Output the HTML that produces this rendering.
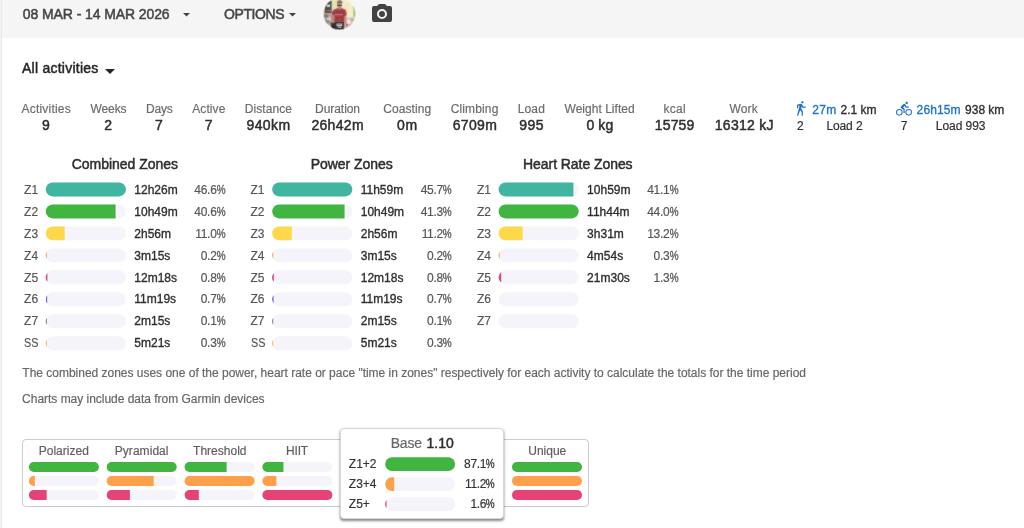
<!DOCTYPE html>
<html><head><meta charset="utf-8"><title>Totals</title>
<style>
html,body{margin:0;padding:0;}
body{width:1024px;height:528px;overflow:hidden;background:#fff;position:relative;font-family:"Liberation Sans",sans-serif;}
.strip{position:absolute;left:0;top:0;width:2px;height:528px;background:linear-gradient(90deg,#f2f2f7 0,#f2f2f7 50%,#e9e9f0 50%,#e9e9f0 100%);}
.hdr{position:absolute;left:2px;top:0;width:1022px;height:38px;background:#f5f5f5;}
.tl{position:absolute;left:0;top:0;width:1024px;height:528px;will-change:transform;}
.t{position:absolute;white-space:pre;font-family:"Liberation Sans",sans-serif;font-weight:400;-webkit-text-stroke:0.18px currentColor;}
.m{-webkit-text-stroke:0.48px currentColor;}
.m2{-webkit-text-stroke:0.33px currentColor;}
.pc{display:inline-block;font-weight:400;-webkit-text-stroke:0.3px currentColor;transform:scaleX(.83);transform-origin:100% 50%;margin-left:-1.81px;}
.bar{position:absolute;background:#f4f4fa;overflow:hidden;}
.bar i{display:block;height:100%;}
.box{position:absolute;left:22px;top:439px;width:565px;height:66px;border:1px solid #ccc;border-radius:4px;}
.pop{position:absolute;left:340px;top:428px;width:162px;height:89px;border:1px solid #d6d6d6;border-radius:4px;background:#fff;box-shadow:0 2px 2.5px -0.5px rgba(0,0,0,.45),0 0 4px rgba(0,0,0,.05);}
svg{position:absolute;overflow:visible;}
</style></head><body>
<div class="strip"></div>
<div class="hdr"></div>
<!-- carets -->
<svg style="left:182.7px;top:12.9px" width="7" height="3.5" viewBox="0 0 10 5"><path d="M0 0H10L5 5Z" fill="#444"/></svg>
<svg style="left:289.3px;top:12.8px" width="7" height="3.5" viewBox="0 0 10 5"><path d="M0 0H10L5 5Z" fill="#444"/></svg>
<svg style="left:105.4px;top:69px" width="10" height="5" viewBox="0 0 10 5"><path d="M0 0H10L5 5Z" fill="#262626"/></svg>
<svg style="left:323px;top:0px" width="33" height="31" viewBox="323 0 33 31">
<defs>
<clipPath id="avc"><circle cx="339.4" cy="13.8" r="16.1"/></clipPath>
<filter id="avb" x="-20%" y="-20%" width="140%" height="140%"><feGaussianBlur stdDeviation="0.85"/></filter>
</defs>
<g clip-path="url(#avc)">
<g filter="url(#avb)">
<rect x="320" y="-4" width="40" height="38" fill="#e9e2c4"/>
<rect x="342" y="-2" width="14" height="20" fill="#f4eed0"/>
<rect x="345" y="3" width="4" height="10" fill="#f3e8ba"/>
<rect x="353.5" y="6" width="3" height="11" fill="#a6ad55"/>
<rect x="331" y="-2" width="6" height="10" fill="#e4e5b4"/>
<rect x="323" y="9" width="4" height="5" fill="#c9cf6a"/>
<rect x="324.5" y="0.5" width="7.2" height="12.8" fill="#454547"/>
<rect x="326.6" y="4.6" width="3.4" height="2.2" fill="#e8e8ea"/>
<rect x="325.8" y="9.8" width="2" height="1.6" fill="#d8454a"/>
<rect x="328.2" y="9.9" width="3" height="1.4" fill="#8a8a90"/>
<rect x="322" y="13.5" width="11" height="12" fill="#b7a6a3"/>
<rect x="324" y="14.5" width="4.5" height="3" fill="#74757c"/>
<rect x="328.5" y="16" width="3" height="2.4" fill="#d6b3aa"/>
<rect x="327" y="18" width="4" height="3" fill="#d9cfcf"/>
<rect x="324.5" y="20" width="5" height="3.4" fill="#8d8184"/>
<rect x="327" y="23.4" width="4" height="2.4" fill="#c9bcbc"/>
<rect x="345" y="17.5" width="12" height="11" fill="#d7c7c2"/>
<rect x="347.3" y="20" width="3" height="3.6" fill="#f4f2f2"/>
<rect x="350.5" y="18.5" width="4" height="3" fill="#c3a9a2"/>
<rect x="346" y="23.8" width="1.7" height="2.8" fill="#cf3a4c"/>
<rect x="349" y="24" width="5" height="3" fill="#bfb2b2"/>
<path d="M331.5 21.5 L344.6 21.5 L344.2 31 L330.5 31 Z" fill="#2a2a32"/>
<rect x="330.5" y="22.4" width="3.6" height="3" fill="#2c2c33"/>
<path d="M332.4 12.5 L334.8 14 L334.4 23.0 L331.2 23.2 L331.0 17 Z" fill="#b98a78"/>
<path d="M344.2 14 L346.4 16.5 L346.8 24 L344.2 24 Z" fill="#c99783"/>
<path d="M338 8 L341.2 8 L345.4 9.6 Q346.8 12 346.8 15.6 L344.6 16 L344.3 21.7 L334.3 21.7 L334.4 15.2 L331.8 14.6 Q332 11.2 333.4 9.8 Z" fill="#a0393e"/>
<rect x="334.6" y="14.0" width="8.2" height="1.3" fill="#c27c83"/>
<rect x="339" y="18.6" width="1.1" height="1.1" fill="#b8804f"/>
<rect x="338.2" y="7" width="3" height="2.4" fill="#bb8873"/>
<ellipse cx="339.5" cy="4.6" rx="2.6" ry="3.6" fill="#c3917b"/>
<path d="M336.9 3.4 Q337 0.2 339.7 0.3 Q342.5 0.2 342.5 3.4 Q339.7 1.9 336.9 3.4 Z" fill="#6e625c"/>
<rect x="337.2" y="4.7" width="4.6" height="1.2" rx="0.5" fill="#26262b"/>
<rect x="336.6" y="23.6" width="5.4" height="2.6" fill="#e9e9ec"/>
<rect x="337.4" y="24.4" width="3.8" height="0.8" fill="#55565e"/>
<rect x="338.2" y="26.8" width="3" height="1.1" fill="#c9c9cf"/>
</g>
<g opacity="0.55">
<rect x="320" y="-4" width="40" height="38" fill="#e9e2c4"/>
<rect x="342" y="-2" width="14" height="20" fill="#f4eed0"/>
<rect x="345" y="3" width="4" height="10" fill="#f3e8ba"/>
<rect x="353.5" y="6" width="3" height="11" fill="#a6ad55"/>
<rect x="331" y="-2" width="6" height="10" fill="#e4e5b4"/>
<rect x="323" y="9" width="4" height="5" fill="#c9cf6a"/>
<rect x="324.5" y="0.5" width="7.2" height="12.8" fill="#454547"/>
<rect x="326.6" y="4.6" width="3.4" height="2.2" fill="#e8e8ea"/>
<rect x="325.8" y="9.8" width="2" height="1.6" fill="#d8454a"/>
<rect x="328.2" y="9.9" width="3" height="1.4" fill="#8a8a90"/>
<rect x="322" y="13.5" width="11" height="12" fill="#b7a6a3"/>
<rect x="324" y="14.5" width="4.5" height="3" fill="#74757c"/>
<rect x="328.5" y="16" width="3" height="2.4" fill="#d6b3aa"/>
<rect x="327" y="18" width="4" height="3" fill="#d9cfcf"/>
<rect x="324.5" y="20" width="5" height="3.4" fill="#8d8184"/>
<rect x="327" y="23.4" width="4" height="2.4" fill="#c9bcbc"/>
<rect x="345" y="17.5" width="12" height="11" fill="#d7c7c2"/>
<rect x="347.3" y="20" width="3" height="3.6" fill="#f4f2f2"/>
<rect x="350.5" y="18.5" width="4" height="3" fill="#c3a9a2"/>
<rect x="346" y="23.8" width="1.7" height="2.8" fill="#cf3a4c"/>
<rect x="349" y="24" width="5" height="3" fill="#bfb2b2"/>
<path d="M331.5 21.5 L344.6 21.5 L344.2 31 L330.5 31 Z" fill="#2a2a32"/>
<rect x="330.5" y="22.4" width="3.6" height="3" fill="#2c2c33"/>
<path d="M332.4 12.5 L334.8 14 L334.4 23.0 L331.2 23.2 L331.0 17 Z" fill="#b98a78"/>
<path d="M344.2 14 L346.4 16.5 L346.8 24 L344.2 24 Z" fill="#c99783"/>
<path d="M338 8 L341.2 8 L345.4 9.6 Q346.8 12 346.8 15.6 L344.6 16 L344.3 21.7 L334.3 21.7 L334.4 15.2 L331.8 14.6 Q332 11.2 333.4 9.8 Z" fill="#a0393e"/>
<rect x="334.6" y="14.0" width="8.2" height="1.3" fill="#c27c83"/>
<rect x="339" y="18.6" width="1.1" height="1.1" fill="#b8804f"/>
<rect x="338.2" y="7" width="3" height="2.4" fill="#bb8873"/>
<ellipse cx="339.5" cy="4.6" rx="2.6" ry="3.6" fill="#c3917b"/>
<path d="M336.9 3.4 Q337 0.2 339.7 0.3 Q342.5 0.2 342.5 3.4 Q339.7 1.9 336.9 3.4 Z" fill="#6e625c"/>
<rect x="337.2" y="4.7" width="4.6" height="1.2" rx="0.5" fill="#26262b"/>
<rect x="336.6" y="23.6" width="5.4" height="2.6" fill="#e9e9ec"/>
<rect x="337.4" y="24.4" width="3.8" height="0.8" fill="#55565e"/>
<rect x="338.2" y="26.8" width="3" height="1.1" fill="#c9c9cf"/>
</g>
</g>
<circle cx="339.4" cy="13.8" r="16.1" fill="none" stroke="#f5f5f5" stroke-width="0.6"/>
</svg>

<!-- camera -->
<svg style="left:369.7px;top:2px" width="24" height="24" viewBox="0 0 24 24"><path fill="#424242" d="M4,4H7L9,2H15L17,4H20A2,2 0 0,1 22,6V18A2,2 0 0,1 20,20H4A2,2 0 0,1 2,18V6A2,2 0 0,1 4,4M12,7A5,5 0 0,0 7,12A5,5 0 0,0 12,17A5,5 0 0,0 17,12A5,5 0 0,0 12,7M12,9A3,3 0 0,1 15,12A3,3 0 0,1 12,15A3,3 0 0,1 9,12A3,3 0 0,1 12,9Z"/></svg>
<!-- walk / bike -->
<svg style="left:792.8px;top:100.9px" width="16" height="16" viewBox="0 0 24 24"><path fill="#1f72cc" d="M14.12,10H19V8.2H15.38L13.38,4.87C13.08,4.37 12.54,4.03 11.92,4.03C11.74,4.03 11.58,4.06 11.42,4.11L6,5.8V11H7.8V7.33L9.91,6.67L6,22H7.8L10.67,13.89L13,17V22H14.8V15.59L12.31,11.05L13.04,8.18M14,3.8C15,3.8 15.8,3 15.8,2C15.8,1 15,0.2 14,0.2C13,0.2 12.2,1 12.2,2C12.2,3 13,3.8 14,3.8Z"/></svg>
<svg style="left:896.1px;top:100.9px" width="16" height="16" viewBox="0 0 24 24"><path fill="#1f72cc" d="M5,20.5A3.5,3.5 0 0,1 1.5,17A3.5,3.5 0 0,1 5,13.5A3.5,3.5 0 0,1 8.5,17A3.5,3.5 0 0,1 5,20.5M5,12A5,5 0 0,0 0,17A5,5 0 0,0 5,22A5,5 0 0,0 10,17A5,5 0 0,0 5,12M14.8,10H19V8.2H15.8L13.86,4.93C13.57,4.43 13,4.1 12.4,4.1C11.93,4.1 11.5,4.29 11.2,4.6L7.5,8.29C7.19,8.6 7,9 7,9.5C7,10.13 7.33,10.66 7.85,10.97L11.2,13V18H13V11.5L10.75,9.85L13.07,7.5M19,20.5A3.5,3.5 0 0,1 15.5,17A3.5,3.5 0 0,1 19,13.5A3.5,3.5 0 0,1 22.5,17A3.5,3.5 0 0,1 19,20.5M19,12A5,5 0 0,0 14,17A5,5 0 0,0 19,22A5,5 0 0,0 24,17A5,5 0 0,0 19,12M16,4.8C17,4.8 17.8,4 17.8,3C17.8,2 17,1.2 16,1.2C15,1.2 14.2,2 14.2,3C14.2,4 15,4.8 16,4.8Z"/></svg>
<div class="box"></div>
<svg style="left:0;top:0" width="1024" height="528" viewBox="0 0 1024 528">
<path fill="#f4f4fa" d="M52.77 182.45H118.92A6.97 6.97 0 0 1 118.92 196.40H52.77A6.97 6.97 0 0 1 52.77 182.45Z"/><path fill="#40b6a0" d="M52.77 182.45H118.92A6.97 6.97 0 0 1 118.92 196.40H52.77A6.97 6.97 0 0 1 52.77 182.45Z"/>
<path fill="#f4f4fa" d="M52.77 204.43H118.92A6.97 6.97 0 0 1 118.92 218.38H52.77A6.97 6.97 0 0 1 52.77 204.43Z"/><path fill="#40b640" d="M52.77 204.43H115.59V218.38H52.77A6.97 6.97 0 0 1 52.77 204.43Z"/>
<path fill="#f4f4fa" d="M52.77 226.41H118.92A6.97 6.97 0 0 1 118.92 240.36H52.77A6.97 6.97 0 0 1 52.77 226.41Z"/><path fill="#ffd84a" d="M52.77 226.41H64.71V240.36H52.77A6.97 6.97 0 0 1 52.77 226.41Z"/>
<path fill="#f4f4fa" d="M52.77 248.39H118.92A6.97 6.97 0 0 1 118.92 262.34H52.77A6.97 6.97 0 0 1 52.77 248.39Z"/><path fill="#ff9f4a" d="M46.80 251.77A6.97 6.97 0 0 0 46.80 258.96Z"/>
<path fill="#f4f4fa" d="M52.77 270.37H118.92A6.97 6.97 0 0 1 118.92 284.32H52.77A6.97 6.97 0 0 1 52.77 270.37Z"/><path fill="#e54375" d="M47.38 272.93A6.97 6.97 0 0 0 47.38 281.76Z"/>
<path fill="#f4f4fa" d="M52.77 292.35H118.92A6.97 6.97 0 0 1 118.92 306.30H52.77A6.97 6.97 0 0 1 52.77 292.35Z"/><path fill="#8c66d9" d="M47.20 295.13A6.97 6.97 0 0 0 47.20 303.52Z"/>
<path fill="#f4f4fa" d="M52.77 314.33H118.92A6.97 6.97 0 0 1 118.92 328.28H52.77A6.97 6.97 0 0 1 52.77 314.33Z"/><path fill="#7c7689" d="M46.80 317.71A6.97 6.97 0 0 0 46.80 324.90Z"/>
<path fill="#f4f4fa" d="M52.77 336.31H118.92A6.97 6.97 0 0 1 118.92 350.26H52.77A6.97 6.97 0 0 1 52.77 336.31Z"/><path fill="#ffb74a" d="M46.80 339.69A6.97 6.97 0 0 0 46.80 346.88Z"/>
<path fill="#f4f4fa" d="M279.18 182.45H345.32A6.97 6.97 0 0 1 345.32 196.40H279.18A6.97 6.97 0 0 1 279.18 182.45Z"/><path fill="#40b6a0" d="M279.18 182.45H345.32A6.97 6.97 0 0 1 345.32 196.40H279.18A6.97 6.97 0 0 1 279.18 182.45Z"/>
<path fill="#f4f4fa" d="M279.18 204.43H345.32A6.97 6.97 0 0 1 345.32 218.38H279.18A6.97 6.97 0 0 1 279.18 204.43Z"/><path fill="#40b640" d="M279.18 204.43H344.59V218.38H279.18A6.97 6.97 0 0 1 279.18 204.43Z"/>
<path fill="#f4f4fa" d="M279.18 226.41H345.32A6.97 6.97 0 0 1 345.32 240.36H279.18A6.97 6.97 0 0 1 279.18 226.41Z"/><path fill="#ffd84a" d="M279.18 226.41H291.83V240.36H279.18A6.97 6.97 0 0 1 279.18 226.41Z"/>
<path fill="#f4f4fa" d="M279.18 248.39H345.32A6.97 6.97 0 0 1 345.32 262.34H279.18A6.97 6.97 0 0 1 279.18 248.39Z"/><path fill="#ff9f4a" d="M273.20 251.77A6.97 6.97 0 0 0 273.20 258.96Z"/>
<path fill="#f4f4fa" d="M279.18 270.37H345.32A6.97 6.97 0 0 1 345.32 284.32H279.18A6.97 6.97 0 0 1 279.18 270.37Z"/><path fill="#e54375" d="M273.80 272.90A6.97 6.97 0 0 0 273.80 281.79Z"/>
<path fill="#f4f4fa" d="M279.18 292.35H345.32A6.97 6.97 0 0 1 345.32 306.30H279.18A6.97 6.97 0 0 1 279.18 292.35Z"/><path fill="#8c66d9" d="M273.63 295.10A6.97 6.97 0 0 0 273.63 303.55Z"/>
<path fill="#f4f4fa" d="M279.18 314.33H345.32A6.97 6.97 0 0 1 345.32 328.28H279.18A6.97 6.97 0 0 1 279.18 314.33Z"/><path fill="#7c7689" d="M273.20 317.71A6.97 6.97 0 0 0 273.20 324.90Z"/>
<path fill="#f4f4fa" d="M279.18 336.31H345.32A6.97 6.97 0 0 1 345.32 350.26H279.18A6.97 6.97 0 0 1 279.18 336.31Z"/><path fill="#ffb74a" d="M273.20 339.69A6.97 6.97 0 0 0 273.20 346.88Z"/>
<path fill="#f4f4fa" d="M505.58 182.45H571.73A6.97 6.97 0 0 1 571.73 196.40H505.58A6.97 6.97 0 0 1 505.58 182.45Z"/><path fill="#40b6a0" d="M505.58 182.45H571.73A6.97 6.97 0 0 1 573.42 182.66V196.19A6.97 6.97 0 0 1 571.73 196.40H505.58A6.97 6.97 0 0 1 505.58 182.45Z"/>
<path fill="#f4f4fa" d="M505.58 204.43H571.73A6.97 6.97 0 0 1 571.73 218.38H505.58A6.97 6.97 0 0 1 505.58 204.43Z"/><path fill="#40b640" d="M505.58 204.43H571.73A6.97 6.97 0 0 1 571.73 218.38H505.58A6.97 6.97 0 0 1 505.58 204.43Z"/>
<path fill="#f4f4fa" d="M505.58 226.41H571.73A6.97 6.97 0 0 1 571.73 240.36H505.58A6.97 6.97 0 0 1 505.58 226.41Z"/><path fill="#ffd84a" d="M505.58 226.41H522.63V240.36H505.58A6.97 6.97 0 0 1 505.58 226.41Z"/>
<path fill="#f4f4fa" d="M505.58 248.39H571.73A6.97 6.97 0 0 1 571.73 262.34H505.58A6.97 6.97 0 0 1 505.58 248.39Z"/><path fill="#ff9f4a" d="M499.60 251.77A6.97 6.97 0 0 0 499.60 258.96Z"/>
<path fill="#f4f4fa" d="M505.58 270.37H571.73A6.97 6.97 0 0 1 571.73 284.32H505.58A6.97 6.97 0 0 1 505.58 270.37Z"/><path fill="#e54375" d="M501.17 271.94A6.97 6.97 0 0 0 501.17 282.75Z"/>
<path fill="#f4f4fa" d="M505.58 292.35H571.73A6.97 6.97 0 0 1 571.73 306.30H505.58A6.97 6.97 0 0 1 505.58 292.35Z"/>
<path fill="#f4f4fa" d="M505.58 314.33H571.73A6.97 6.97 0 0 1 571.73 328.28H505.58A6.97 6.97 0 0 1 505.58 314.33Z"/>
<path fill="#f4f4fa" d="M33.82 462.05H93.98A4.92 4.92 0 0 1 93.98 471.90H33.82A4.92 4.92 0 0 1 33.82 462.05Z"/><path fill="#40b640" d="M33.82 462.05H93.98A4.92 4.92 0 0 1 93.98 471.90H33.82A4.92 4.92 0 0 1 33.82 462.05Z"/>
<path fill="#f4f4fa" d="M33.82 476.05H93.98A4.92 4.92 0 0 1 93.98 485.90H33.82A4.92 4.92 0 0 1 33.82 476.05Z"/><path fill="#ff9f4a" d="M33.82 476.05H34.90V485.90H33.82A4.92 4.92 0 0 1 33.82 476.05Z"/>
<path fill="#f4f4fa" d="M33.82 490.05H93.98A4.92 4.92 0 0 1 93.98 499.90H33.82A4.92 4.92 0 0 1 33.82 490.05Z"/><path fill="#e54375" d="M33.82 490.05H46.70V499.90H33.82A4.92 4.92 0 0 1 33.82 490.05Z"/>
<path fill="#f4f4fa" d="M111.62 462.05H171.77A4.92 4.92 0 0 1 171.77 471.90H111.62A4.92 4.92 0 0 1 111.62 462.05Z"/><path fill="#40b640" d="M111.62 462.05H171.77A4.92 4.92 0 0 1 171.77 471.90H111.62A4.92 4.92 0 0 1 111.62 462.05Z"/>
<path fill="#f4f4fa" d="M111.62 476.05H171.77A4.92 4.92 0 0 1 171.77 485.90H111.62A4.92 4.92 0 0 1 111.62 476.05Z"/><path fill="#ff9f4a" d="M111.62 476.05H153.70V485.90H111.62A4.92 4.92 0 0 1 111.62 476.05Z"/>
<path fill="#f4f4fa" d="M111.62 490.05H171.77A4.92 4.92 0 0 1 171.77 499.90H111.62A4.92 4.92 0 0 1 111.62 490.05Z"/><path fill="#e54375" d="M111.62 490.05H129.90V499.90H111.62A4.92 4.92 0 0 1 111.62 490.05Z"/>
<path fill="#f4f4fa" d="M189.53 462.05H249.67A4.92 4.92 0 0 1 249.67 471.90H189.53A4.92 4.92 0 0 1 189.53 462.05Z"/><path fill="#40b640" d="M189.53 462.05H226.60V471.90H189.53A4.92 4.92 0 0 1 189.53 462.05Z"/>
<path fill="#f4f4fa" d="M189.53 476.05H249.67A4.92 4.92 0 0 1 249.67 485.90H189.53A4.92 4.92 0 0 1 189.53 476.05Z"/><path fill="#ff9f4a" d="M189.53 476.05H249.67A4.92 4.92 0 0 1 249.67 485.90H189.53A4.92 4.92 0 0 1 189.53 476.05Z"/>
<path fill="#f4f4fa" d="M189.53 490.05H249.67A4.92 4.92 0 0 1 249.67 499.90H189.53A4.92 4.92 0 0 1 189.53 490.05Z"/><path fill="#e54375" d="M189.53 490.05H198.80V499.90H189.53A4.92 4.92 0 0 1 189.53 490.05Z"/>
<path fill="#f4f4fa" d="M267.32 462.05H327.47A4.92 4.92 0 0 1 327.47 471.90H267.32A4.92 4.92 0 0 1 267.32 462.05Z"/><path fill="#40b640" d="M267.32 462.05H283.40V471.90H267.32A4.92 4.92 0 0 1 267.32 462.05Z"/>
<path fill="#f4f4fa" d="M267.32 476.05H327.47A4.92 4.92 0 0 1 327.47 485.90H267.32A4.92 4.92 0 0 1 267.32 476.05Z"/><path fill="#ff9f4a" d="M267.32 476.05H276.40V485.90H267.32A4.92 4.92 0 0 1 267.32 476.05Z"/>
<path fill="#f4f4fa" d="M267.32 490.05H327.47A4.92 4.92 0 0 1 327.47 499.90H267.32A4.92 4.92 0 0 1 267.32 490.05Z"/><path fill="#e54375" d="M267.32 490.05H327.47A4.92 4.92 0 0 1 327.47 499.90H267.32A4.92 4.92 0 0 1 267.32 490.05Z"/>
<path fill="#f4f4fa" d="M516.92 462.05H577.08A4.92 4.92 0 0 1 577.08 471.90H516.92A4.92 4.92 0 0 1 516.92 462.05Z"/><path fill="#40b640" d="M516.92 462.05H577.08A4.92 4.92 0 0 1 577.08 471.90H516.92A4.92 4.92 0 0 1 516.92 462.05Z"/>
<path fill="#f4f4fa" d="M516.92 476.05H577.08A4.92 4.92 0 0 1 577.08 485.90H516.92A4.92 4.92 0 0 1 516.92 476.05Z"/><path fill="#ff9f4a" d="M516.92 476.05H577.08A4.92 4.92 0 0 1 577.08 485.90H516.92A4.92 4.92 0 0 1 516.92 476.05Z"/>
<path fill="#f4f4fa" d="M516.92 490.05H577.08A4.92 4.92 0 0 1 577.08 499.90H516.92A4.92 4.92 0 0 1 516.92 490.05Z"/><path fill="#e54375" d="M516.92 490.05H577.08A4.92 4.92 0 0 1 577.08 499.90H516.92A4.92 4.92 0 0 1 516.92 490.05Z"/>
</svg>
<div class="pop"></div>
<svg style="left:0;top:0" width="1024" height="528" viewBox="0 0 1024 528">
<path fill="#f4f4fa" d="M392.10 457.15H448.20A6.90 6.90 0 0 1 448.20 470.95H392.10A6.90 6.90 0 0 1 392.10 457.15Z"/><path fill="#40b640" d="M392.10 457.15H448.20A6.90 6.90 0 0 1 448.20 470.95H392.10A6.90 6.90 0 0 1 392.10 457.15Z"/>
<path fill="#f4f4fa" d="M392.10 477.15H448.20A6.90 6.90 0 0 1 448.20 490.95H392.10A6.90 6.90 0 0 1 392.10 477.15Z"/><path fill="#ff9f4a" d="M392.10 477.15H394.20V490.95H392.10A6.90 6.90 0 0 1 392.10 477.15Z"/>
<path fill="#f4f4fa" d="M392.10 497.15H448.20A6.90 6.90 0 0 1 448.20 510.95H392.10A6.90 6.90 0 0 1 392.10 497.15Z"/><path fill="#e54375" d="M386.50 500.02A6.90 6.90 0 0 0 386.50 508.08Z"/>
</svg>
<div class="tl">
<span class="t m" style="left:22.84px;top:7px;font-size:14px;line-height:14px;color:#444444;letter-spacing:-0.095px">08 MAR - 14 MAR 2026</span>
<span class="t m" style="left:224.04px;top:7px;font-size:14px;line-height:14px;color:#444444;letter-spacing:-0.414px">OPTIONS</span>
<span class="t m" style="left:22.04px;top:61px;font-size:14px;line-height:14px;color:#262626;letter-spacing:0.241px">All activities</span>
<span class="t" style="left:21.52px;top:103px;font-size:12px;line-height:12px;color:#6b6b6b;letter-spacing:0.202px">Activities</span>
<span class="t m" style="left:42.04px;top:118px;font-size:14px;line-height:14px;color:#2e2e2e;letter-spacing:0.523px">9</span>
<span class="t" style="left:90.52px;top:103px;font-size:12px;line-height:12px;color:#6b6b6b;letter-spacing:-0.102px">Weeks</span>
<span class="t m" style="left:104.34px;top:118px;font-size:14px;line-height:14px;color:#2e2e2e;letter-spacing:0.523px">2</span>
<span class="t" style="left:146.02px;top:103px;font-size:12px;line-height:12px;color:#6b6b6b;letter-spacing:-0.221px">Days</span>
<span class="t m" style="left:155.09px;top:118px;font-size:14px;line-height:14px;color:#2e2e2e;letter-spacing:0.523px">7</span>
<span class="t" style="left:192.22px;top:103px;font-size:12px;line-height:12px;color:#6b6b6b;letter-spacing:0.095px">Active</span>
<span class="t m" style="left:204.69px;top:118px;font-size:14px;line-height:14px;color:#2e2e2e;letter-spacing:0.523px">7</span>
<span class="t" style="left:244.72px;top:103px;font-size:12px;line-height:12px;color:#6b6b6b;letter-spacing:0.072px">Distance</span>
<span class="t m" style="left:246.44px;top:118px;font-size:14px;line-height:14px;color:#2e2e2e;letter-spacing:0.418px">940km</span>
<span class="t" style="left:315.12px;top:103px;font-size:12px;line-height:12px;color:#6b6b6b;letter-spacing:-0.062px">Duration</span>
<span class="t m" style="left:311.44px;top:118px;font-size:14px;line-height:14px;color:#2e2e2e;letter-spacing:0.304px">26h42m</span>
<span class="t" style="left:383.32px;top:103px;font-size:12px;line-height:12px;color:#6b6b6b;letter-spacing:0.061px">Coasting</span>
<span class="t m" style="left:397.04px;top:118px;font-size:14px;line-height:14px;color:#2e2e2e;letter-spacing:0.783px">0m</span>
<span class="t" style="left:450.72px;top:103px;font-size:12px;line-height:12px;color:#6b6b6b;letter-spacing:0.134px">Climbing</span>
<span class="t m" style="left:452.74px;top:118px;font-size:14px;line-height:14px;color:#2e2e2e;letter-spacing:0.322px">6709m</span>
<span class="t" style="left:517.72px;top:103px;font-size:12px;line-height:12px;color:#6b6b6b;letter-spacing:0.139px">Load</span>
<span class="t m" style="left:519.34px;top:118px;font-size:14px;line-height:14px;color:#2e2e2e;letter-spacing:0.420px">995</span>
<span class="t" style="left:564.52px;top:103px;font-size:12px;line-height:12px;color:#6b6b6b;letter-spacing:0.026px">Weight Lifted</span>
<span class="t m" style="left:586.44px;top:118px;font-size:14px;line-height:14px;color:#2e2e2e;letter-spacing:0.113px">0 kg</span>
<span class="t" style="left:663.62px;top:103px;font-size:12px;line-height:12px;color:#6b6b6b;letter-spacing:0.254px">kcal</span>
<span class="t m" style="left:654.74px;top:118px;font-size:14px;line-height:14px;color:#2e2e2e;letter-spacing:0.177px">15759</span>
<span class="t" style="left:729.52px;top:103px;font-size:12px;line-height:12px;color:#6b6b6b;letter-spacing:0.120px">Work</span>
<span class="t m" style="left:714.84px;top:118px;font-size:14px;line-height:14px;color:#2e2e2e;letter-spacing:0.249px">16312 kJ</span>
<span class="t m2" style="left:812.32px;top:104px;font-size:12px;line-height:12px;color:#1f72cc;letter-spacing:0.272px">27m</span>
<span class="t m2" style="left:840.52px;top:104px;font-size:12px;line-height:12px;color:#2e2e2e;letter-spacing:-0.009px">2.1 km</span>
<span class="t" style="left:796.92px;top:120px;font-size:12px;line-height:12px;color:#2e2e2e;letter-spacing:0.073px">2</span>
<span class="t" style="left:826.42px;top:120px;font-size:12px;line-height:12px;color:#2e2e2e;letter-spacing:-0.107px">Load 2</span>
<span class="t m2" style="left:916.62px;top:104px;font-size:12px;line-height:12px;color:#1f72cc;letter-spacing:0.114px">26h15m</span>
<span class="t m2" style="left:965.12px;top:104px;font-size:12px;line-height:12px;color:#2e2e2e;letter-spacing:-0.033px">938 km</span>
<span class="t" style="left:900.72px;top:120px;font-size:12px;line-height:12px;color:#2e2e2e;letter-spacing:-0.128px">7</span>
<span class="t" style="left:935.82px;top:120px;font-size:12px;line-height:12px;color:#2e2e2e;letter-spacing:-0.050px">Load 993</span>
<span class="t m" style="left:71.74px;top:157px;font-size:14px;line-height:14px;color:#2e2e2e;letter-spacing:-0.022px">Combined Zones</span>
<span class="t" style="left:24.12px;top:184px;font-size:12px;line-height:12px;color:#555">Z1</span>
<span class="t m2" style="left:134.32px;top:184px;font-size:12px;line-height:12px;color:#2e2e2e">12h26m</span>
<span class="t" style="right:798.92px;top:184px;font-size:12px;line-height:12px;color:#555;letter-spacing:-0.3px">46.6<b class="pc">%</b></span>
<span class="t" style="left:24.12px;top:206px;font-size:12px;line-height:12px;color:#555">Z2</span>
<span class="t m2" style="left:134.32px;top:206px;font-size:12px;line-height:12px;color:#2e2e2e">10h49m</span>
<span class="t" style="right:798.92px;top:206px;font-size:12px;line-height:12px;color:#555;letter-spacing:-0.3px">40.6<b class="pc">%</b></span>
<span class="t" style="left:24.12px;top:228px;font-size:12px;line-height:12px;color:#555">Z3</span>
<span class="t m2" style="left:134.32px;top:228px;font-size:12px;line-height:12px;color:#2e2e2e">2h56m</span>
<span class="t" style="right:798.92px;top:228px;font-size:12px;line-height:12px;color:#555;letter-spacing:-0.3px">11.0<b class="pc">%</b></span>
<span class="t" style="left:24.12px;top:250px;font-size:12px;line-height:12px;color:#555">Z4</span>
<span class="t m2" style="left:134.32px;top:250px;font-size:12px;line-height:12px;color:#2e2e2e">3m15s</span>
<span class="t" style="right:798.92px;top:250px;font-size:12px;line-height:12px;color:#555;letter-spacing:-0.3px">0.2<b class="pc">%</b></span>
<span class="t" style="left:24.12px;top:272px;font-size:12px;line-height:12px;color:#555">Z5</span>
<span class="t m2" style="left:134.32px;top:272px;font-size:12px;line-height:12px;color:#2e2e2e">12m18s</span>
<span class="t" style="right:798.92px;top:272px;font-size:12px;line-height:12px;color:#555;letter-spacing:-0.3px">0.8<b class="pc">%</b></span>
<span class="t" style="left:24.12px;top:293px;font-size:12px;line-height:12px;color:#555">Z6</span>
<span class="t m2" style="left:134.32px;top:293px;font-size:12px;line-height:12px;color:#2e2e2e">11m19s</span>
<span class="t" style="right:798.92px;top:293px;font-size:12px;line-height:12px;color:#555;letter-spacing:-0.3px">0.7<b class="pc">%</b></span>
<span class="t" style="left:24.12px;top:315px;font-size:12px;line-height:12px;color:#555">Z7</span>
<span class="t m2" style="left:134.32px;top:315px;font-size:12px;line-height:12px;color:#2e2e2e">2m15s</span>
<span class="t" style="right:798.92px;top:315px;font-size:12px;line-height:12px;color:#555;letter-spacing:-0.3px">0.1<b class="pc">%</b></span>
<span class="t" style="left:24.12px;transform:scaleX(0.9029);transform-origin:0 50%;top:337px;font-size:12px;line-height:12px;color:#555">SS</span>
<span class="t m2" style="left:134.32px;top:337px;font-size:12px;line-height:12px;color:#2e2e2e">5m21s</span>
<span class="t" style="right:798.92px;top:337px;font-size:12px;line-height:12px;color:#555;letter-spacing:-0.3px">0.3<b class="pc">%</b></span>
<span class="t m" style="left:310.74px;top:157px;font-size:14px;line-height:14px;color:#2e2e2e;letter-spacing:-0.051px">Power Zones</span>
<span class="t" style="left:250.52px;top:184px;font-size:12px;line-height:12px;color:#555">Z1</span>
<span class="t m2" style="left:360.72px;top:184px;font-size:12px;line-height:12px;color:#2e2e2e">11h59m</span>
<span class="t" style="right:572.52px;top:184px;font-size:12px;line-height:12px;color:#555;letter-spacing:-0.3px">45.7<b class="pc">%</b></span>
<span class="t" style="left:250.52px;top:206px;font-size:12px;line-height:12px;color:#555">Z2</span>
<span class="t m2" style="left:360.72px;top:206px;font-size:12px;line-height:12px;color:#2e2e2e">10h49m</span>
<span class="t" style="right:572.52px;top:206px;font-size:12px;line-height:12px;color:#555;letter-spacing:-0.3px">41.3<b class="pc">%</b></span>
<span class="t" style="left:250.52px;top:228px;font-size:12px;line-height:12px;color:#555">Z3</span>
<span class="t m2" style="left:360.72px;top:228px;font-size:12px;line-height:12px;color:#2e2e2e">2h56m</span>
<span class="t" style="right:572.52px;top:228px;font-size:12px;line-height:12px;color:#555;letter-spacing:-0.3px">11.2<b class="pc">%</b></span>
<span class="t" style="left:250.52px;top:250px;font-size:12px;line-height:12px;color:#555">Z4</span>
<span class="t m2" style="left:360.72px;top:250px;font-size:12px;line-height:12px;color:#2e2e2e">3m15s</span>
<span class="t" style="right:572.52px;top:250px;font-size:12px;line-height:12px;color:#555;letter-spacing:-0.3px">0.2<b class="pc">%</b></span>
<span class="t" style="left:250.52px;top:272px;font-size:12px;line-height:12px;color:#555">Z5</span>
<span class="t m2" style="left:360.72px;top:272px;font-size:12px;line-height:12px;color:#2e2e2e">12m18s</span>
<span class="t" style="right:572.52px;top:272px;font-size:12px;line-height:12px;color:#555;letter-spacing:-0.3px">0.8<b class="pc">%</b></span>
<span class="t" style="left:250.52px;top:293px;font-size:12px;line-height:12px;color:#555">Z6</span>
<span class="t m2" style="left:360.72px;top:293px;font-size:12px;line-height:12px;color:#2e2e2e">11m19s</span>
<span class="t" style="right:572.52px;top:293px;font-size:12px;line-height:12px;color:#555;letter-spacing:-0.3px">0.7<b class="pc">%</b></span>
<span class="t" style="left:250.52px;top:315px;font-size:12px;line-height:12px;color:#555">Z7</span>
<span class="t m2" style="left:360.72px;top:315px;font-size:12px;line-height:12px;color:#2e2e2e">2m15s</span>
<span class="t" style="right:572.52px;top:315px;font-size:12px;line-height:12px;color:#555;letter-spacing:-0.3px">0.1<b class="pc">%</b></span>
<span class="t" style="left:250.52px;transform:scaleX(0.9029);transform-origin:0 50%;top:337px;font-size:12px;line-height:12px;color:#555">SS</span>
<span class="t m2" style="left:360.72px;top:337px;font-size:12px;line-height:12px;color:#2e2e2e">5m21s</span>
<span class="t" style="right:572.52px;top:337px;font-size:12px;line-height:12px;color:#555;letter-spacing:-0.3px">0.3<b class="pc">%</b></span>
<span class="t m" style="left:523.04px;top:157px;font-size:14px;line-height:14px;color:#2e2e2e;letter-spacing:-0.061px">Heart Rate Zones</span>
<span class="t" style="left:476.92px;top:184px;font-size:12px;line-height:12px;color:#555">Z1</span>
<span class="t m2" style="left:587.12px;top:184px;font-size:12px;line-height:12px;color:#2e2e2e">10h59m</span>
<span class="t" style="right:346.12px;top:184px;font-size:12px;line-height:12px;color:#555;letter-spacing:-0.3px">41.1<b class="pc">%</b></span>
<span class="t" style="left:476.92px;top:206px;font-size:12px;line-height:12px;color:#555">Z2</span>
<span class="t m2" style="left:587.12px;top:206px;font-size:12px;line-height:12px;color:#2e2e2e">11h44m</span>
<span class="t" style="right:346.12px;top:206px;font-size:12px;line-height:12px;color:#555;letter-spacing:-0.3px">44.0<b class="pc">%</b></span>
<span class="t" style="left:476.92px;top:228px;font-size:12px;line-height:12px;color:#555">Z3</span>
<span class="t m2" style="left:587.12px;top:228px;font-size:12px;line-height:12px;color:#2e2e2e">3h31m</span>
<span class="t" style="right:346.12px;top:228px;font-size:12px;line-height:12px;color:#555;letter-spacing:-0.3px">13.2<b class="pc">%</b></span>
<span class="t" style="left:476.92px;top:250px;font-size:12px;line-height:12px;color:#555">Z4</span>
<span class="t m2" style="left:587.12px;top:250px;font-size:12px;line-height:12px;color:#2e2e2e">4m54s</span>
<span class="t" style="right:346.12px;top:250px;font-size:12px;line-height:12px;color:#555;letter-spacing:-0.3px">0.3<b class="pc">%</b></span>
<span class="t" style="left:476.92px;top:272px;font-size:12px;line-height:12px;color:#555">Z5</span>
<span class="t m2" style="left:587.12px;top:272px;font-size:12px;line-height:12px;color:#2e2e2e">21m30s</span>
<span class="t" style="right:346.12px;top:272px;font-size:12px;line-height:12px;color:#555;letter-spacing:-0.3px">1.3<b class="pc">%</b></span>
<span class="t" style="left:476.92px;top:293px;font-size:12px;line-height:12px;color:#555">Z6</span>
<span class="t" style="left:476.92px;top:315px;font-size:12px;line-height:12px;color:#555">Z7</span>
<span class="t" style="left:22.32px;top:367px;font-size:12px;line-height:12px;color:#666;letter-spacing:-0.013px">The combined zones uses one of the power, heart rate or pace "time in zones" respectively for each activity to calculate the totals for the time period</span>
<span class="t" style="left:22.12px;top:393px;font-size:12px;line-height:12px;color:#666;letter-spacing:-0.023px">Charts may include data from Garmin devices</span>
<span class="t" style="left:38.72px;top:445px;font-size:12px;line-height:12px;color:#5e5e5e;letter-spacing:0.014px">Polarized</span>
<span class="t" style="left:114.72px;top:445px;font-size:12px;line-height:12px;color:#5e5e5e;letter-spacing:0.056px">Pyramidal</span>
<span class="t" style="left:193.12px;top:445px;font-size:12px;line-height:12px;color:#5e5e5e">Threshold</span>
<span class="t" style="left:286.12px;top:445px;font-size:12px;line-height:12px;color:#5e5e5e;letter-spacing:-0.203px">HIIT</span>
<span class="t" style="left:528.22px;top:445px;font-size:12px;line-height:12px;color:#5e5e5e">Unique</span>
<span class="t" style="left:390.64px;top:436px;font-size:14px;line-height:14px;color:#666;letter-spacing:-0.175px">Base</span>
<span class="t m" style="left:426.54px;top:436px;font-size:14px;line-height:14px;color:#2e2e2e;letter-spacing:-0.032px">1.10</span>
<span class="t" style="left:348.82px;top:458px;font-size:12px;line-height:12px;color:#333">Z1+2</span>
<span class="t" style="right:529.22px;top:458px;font-size:12px;line-height:12px;color:#333;letter-spacing:-0.3px">87.1<b class="pc">%</b></span>
<span class="t" style="left:348.82px;top:478px;font-size:12px;line-height:12px;color:#333">Z3+4</span>
<span class="t" style="right:529.22px;top:478px;font-size:12px;line-height:12px;color:#333;letter-spacing:-0.3px">11.2<b class="pc">%</b></span>
<span class="t" style="left:348.82px;top:498px;font-size:12px;line-height:12px;color:#333">Z5+</span>
<span class="t" style="right:529.22px;top:498px;font-size:12px;line-height:12px;color:#333;letter-spacing:-0.3px">1.6<b class="pc">%</b></span>
</div>
</body></html>
